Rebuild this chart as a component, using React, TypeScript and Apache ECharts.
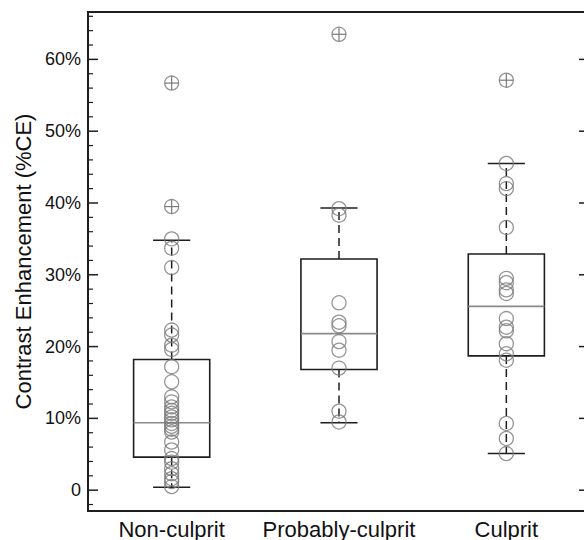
import React, { useEffect, useRef } from "react";
import * as echarts from "echarts";

const categories = ["Non-culprit", "Probably-culprit", "Culprit"];

const nonCulpritPoints = [35.0, 33.7, 31.0, 22.3, 21.6, 20.2, 19.6, 17.2, 15.1, 13.0, 12.3, 11.6, 11.1, 10.7, 10.2, 9.8, 9.3, 8.9, 8.5, 8.1, 6.7, 5.6, 4.4, 3.9, 3.0, 2.3, 1.6, 1.2, 0.5];
const probablyPoints = [39.2, 38.3, 26.1, 23.4, 22.9, 20.7, 19.5, 17.0, 11.0, 9.5];
const culpritPoints = [45.5, 42.7, 42.0, 36.6, 29.5, 28.9, 27.9, 27.4, 23.9, 22.7, 22.2, 20.4, 19.0, 18.1, 9.3, 7.2, 5.1];

const nonCulpritOutliers = [56.7, 39.5];
const probablyOutliers = [63.5];
const culpritOutliers = [57.1];

// box statistics per category
const lowerWhisker = [0.4, 9.4, 5.1];
const q1 = [4.6, 16.8, 18.7];
const median = [9.4, 21.8, 25.6];
const q3 = [18.2, 32.2, 32.9];
const upperWhisker = [34.8, 39.3, 45.5];

const majorTicks = [0, 10, 20, 30, 40, 50, 60];
const minorTicks = [-2, 2, 4, 6, 8, 12, 14, 16, 18, 22, 24, 26, 28, 32, 34, 36, 38, 42, 44, 46, 48, 52, 54, 56, 58, 62, 64, 66];

const Y_MIN = -2.9;
const Y_MAX = 66.6;
const FONT = "'Liberation Sans', Arial, Helvetica, sans-serif";

export default function App() {
  const ref = useRef<HTMLDivElement>(null);

  useEffect(() => {
    if (!ref.current) return;
    const chart = echarts.init(ref.current, undefined, { renderer: "svg" });

    const groups = [nonCulpritPoints, probablyPoints, culpritPoints];
    const outlierGroups = [nonCulpritOutliers, probablyOutliers, culpritOutliers];

    const pointData: number[][] = [];
    groups.forEach((g, i) => g.forEach((v) => pointData.push([i, v])));
    const outlierData: number[][] = [];
    outlierGroups.forEach((g, i) => g.forEach((v) => outlierData.push([i, v])));

    const boxData = categories.map((_, i) => [i, lowerWhisker[i], q1[i], median[i], q3[i], upperWhisker[i]]);

    const majorData = majorTicks.map((v) => [0, v]);
    const minorData = minorTicks.map((v) => [0, v]);

    const dark = "#1e1e1e";

    const tickSeries = (name: string, data: number[][], len: number, w: number) => ({
      type: "custom",
      name,
      z: 5,
      silent: true,
      clip: false,
      encode: { x: 0, y: 1 },
      data,
      renderItem: (params: any, api: any) => {
        const y = api.coord([0, api.value(1)])[1];
        const cs = params.coordSys;
        return {
          type: "group",
          children: [
            { type: "line", shape: { x1: cs.x, y1: y, x2: cs.x + len, y2: y }, style: { stroke: dark, lineWidth: w } },
            { type: "line", shape: { x1: cs.x + cs.width, y1: y, x2: cs.x + cs.width - len - 1, y2: y }, style: { stroke: dark, lineWidth: w } },
          ],
        };
      },
    });

    const option: any = {
      animation: false,
      backgroundColor: "#fff",
      grid: {
        left: 88,
        top: 12,
        width: 502,
        height: 499,
        show: true,
        borderColor: dark,
        borderWidth: 2,
        backgroundColor: "transparent",
      },
      xAxis: {
        type: "category",
        data: categories,
        axisLine: { show: false },
        axisTick: { show: false },
        splitLine: { show: false },
        axisLabel: { interval: 0, hideOverlap: false, fontSize: 22, color: "#111", margin: 7, fontFamily: FONT },
      },
      yAxis: {
        type: "value",
        min: Y_MIN,
        max: Y_MAX,
        position: "left",
        splitLine: { show: false },
        axisLine: { show: false },
        axisTick: { show: false },
        name: "Contrast Enhancement (%CE)",
        nameLocation: "middle",
        nameGap: 43,
        nameTextStyle: { fontSize: 22, color: "#111", fontFamily: FONT },
        axisLabel: {
          customValues: majorTicks,
          fontSize: 18,
          color: "#111",
          margin: 7,
          fontFamily: FONT,
          formatter: (v: number) => (v === 0 ? "0" : `${v}%`),
        },
      },
      series: [
        tickSeries("majorTicks", majorData, 10, 1.5),
        tickSeries("minorTicks", minorData, 5, 1.2),
        {
          type: "custom",
          name: "box",
          z: 2,
          encode: { x: 0, y: [1, 2, 3, 4, 5] },
          data: boxData,
          renderItem: (params: any, api: any) => {
            const x = api.value(0);
            const lo = api.coord([x, api.value(1)]);
            const b1 = api.coord([x, api.value(2)]);
            const md = api.coord([x, api.value(3)]);
            const b3 = api.coord([x, api.value(4)]);
            const hi = api.coord([x, api.value(5)]);
            const band = api.size([1, 0])[0];
            const bw = band * 0.455;
            const cw = band * 0.222;
            const cx = lo[0];
            return {
              type: "group",
              children: [
                { type: "rect", shape: { x: cx - bw / 2, y: b3[1], width: bw, height: b1[1] - b3[1] }, style: { fill: "none", stroke: dark, lineWidth: 1.6 } },
                { type: "line", shape: { x1: cx - bw / 2, y1: md[1], x2: cx + bw / 2, y2: md[1] }, style: { stroke: "#8a8a8a", lineWidth: 1.6 } },
                { type: "line", shape: { x1: cx, y1: b3[1], x2: cx, y2: hi[1] }, style: { stroke: dark, lineWidth: 1.5, lineDash: [8, 5] } },
                { type: "line", shape: { x1: cx, y1: b1[1], x2: cx, y2: lo[1] }, style: { stroke: dark, lineWidth: 1.5, lineDash: [8, 5] } },
                { type: "line", shape: { x1: cx - cw / 2, y1: hi[1], x2: cx + cw / 2, y2: hi[1] }, style: { stroke: dark, lineWidth: 1.6 } },
                { type: "line", shape: { x1: cx - cw / 2, y1: lo[1], x2: cx + cw / 2, y2: lo[1] }, style: { stroke: dark, lineWidth: 1.6 } },
              ],
            };
          },
        },
        {
          type: "scatter",
          name: "points",
          z: 3,
          symbol: "circle",
          symbolSize: 14,
          itemStyle: { color: "rgba(255,255,255,0)", borderColor: "#7a7a7a", borderWidth: 1.3 },
          data: [...pointData, ...outlierData],
        },
        {
          type: "custom",
          name: "outlierCross",
          z: 4,
          encode: { x: 0, y: 1 },
          data: outlierData,
          renderItem: (params: any, api: any) => {
            const p = api.coord([api.value(0), api.value(1)]);
            const r = 7;
            return {
              type: "group",
              children: [
                { type: "line", shape: { x1: p[0] - r, y1: p[1], x2: p[0] + r, y2: p[1] }, style: { stroke: "#7a7a7a", lineWidth: 1.2 } },
                { type: "line", shape: { x1: p[0], y1: p[1] - r, x2: p[0], y2: p[1] + r }, style: { stroke: "#7a7a7a", lineWidth: 1.2 } },
              ],
            };
          },
        },
      ],
    };

    chart.setOption(option);
    return () => chart.dispose();
  }, []);

  return (
    <div style={{ position: "fixed", left: 0, top: 0, width: 584, height: 540, overflow: "hidden", background: "#fff" }}>
      <div ref={ref} style={{ width: 600, height: 540 }} />
    </div>
  );
}
